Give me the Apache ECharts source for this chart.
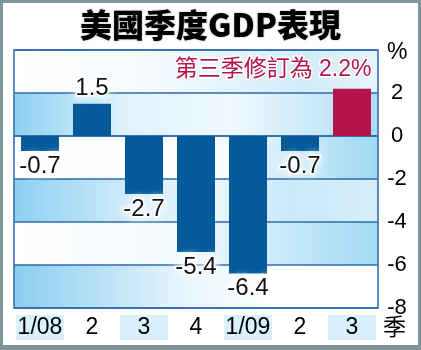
<!DOCTYPE html>
<html>
<head>
<meta charset="utf-8">
<script src="https://cdn.jsdelivr.net/npm/echarts@6/dist/echarts.min.js"></script>
<style>
html,body{margin:0;padding:0;background:#fff;}
#wrap{position:relative;width:421px;height:350px;}
#chart{position:absolute;left:0;top:0;width:421px;height:350px;}
#frame{position:absolute;left:0;top:0;width:421px;height:350px;box-sizing:border-box;border:3px solid #7f9599;border-bottom-width:5px;pointer-events:none;}
</style>
</head>
<body>
<div id="wrap"><div id="chart"></div><div id="frame"></div></div>
<script>
// ---- data ----
const categories = ['1/08', '2', '3', '4', '1/09', '2', '3'];
const gdpValues = [-0.7, 1.5, -2.7, -5.4, -6.4, -0.7, 2.2];
const yTickLabels = ['2', '0', '-2', '-4', '-6', '-8'];
const bandEdges = [4, 2, 0, -2, -4, -6, -8];
const titleText = '美國季度GDP表現';
const noteText = '第三季修訂為 2.2%';
const unitY = '%';
const unitX = '季';

const BLUE = '#045a9b';
const RED = '#b5134b';
const LINE = '#2e6aad';
const FONT = '"Liberation Sans", "Noto Sans CJK TC", sans-serif';

const G = (stops) => new echarts.graphic.LinearGradient(0, 0, 1, 0, stops.map(s => ({offset: s[0], color: s[1]})));
const bandStyles = [
  G([[0,'#ffffff'],[0.35,'#f6fbfe'],[0.8,'#d3ecf9'],[1,'#e6f5fc']]),
  G([[0,'#8dd0f1'],[0.3,'#dff3fc'],[0.6,'#eef8fe'],[0.85,'#c6e8f8'],[1,'#a9dcf4']]),
  G([[0,'#ffffff'],[0.55,'#fbfdff'],[1,'#9fd8f3']]),
  G([[0,'#8ccff1'],[0.35,'#d7effb'],[0.55,'#eaf6fd'],[0.75,'#cbe9f9'],[1,'#d6eefa']]),
  G([[0,'#ffffff'],[0.45,'#f2faff'],[1,'#a3daf5']]),
  G([[0,'#8acdf0'],[0.45,'#e4f4fc'],[0.7,'#ffffff'],[1,'#ffffff']])
];
const bands = [];
for (let i = 0; i < bandEdges.length - 1; i++) {
  bands.push([{yAxis: bandEdges[i], itemStyle: {color: bandStyles[i]}}, {yAxis: bandEdges[i + 1]}]);
}

const last = gdpValues.length - 1;
const chart = echarts.init(document.getElementById('chart'), null, {renderer: 'canvas'});
chart.setOption({
  animation: false,
  backgroundColor: '#ffffff',
  title: {
    text: titleText,
    left: 'center',
    top: 4,
    textStyle: {fontSize: 32, fontWeight: 900, color: '#000', fontFamily: '"Noto Sans CJK TC", sans-serif',
      textShadowColor: 'rgba(0,0,0,0.35)', textShadowBlur: 2}
  },
  grid: {left: 14, right: 43, top: 50, bottom: 42, show: true, borderColor: LINE, borderWidth: 1.5, backgroundColor: 'transparent'},
  xAxis: {
    type: 'category',
    data: categories,
    axisLine: {show: true, lineStyle: {color: LINE, width: 1.5}},
    axisTick: {show: false},
    axisLabel: {
      margin: 7,
      interval: 0,
      formatter: (v, i) => (i % 2 === 0 ? '{a|' + v + '}' : '{b|' + v + '}'),
      rich: {
        a: {backgroundColor: '#d8f1fc', width: 48, height: 25, lineHeight: 25, align: 'center', fontSize: 23, color: '#000', fontFamily: FONT},
        b: {width: 48, height: 25, lineHeight: 25, align: 'center', fontSize: 23, color: '#000', fontFamily: FONT}
      }
    }
  },
  yAxis: {
    type: 'value',
    position: 'right',
    min: -8, max: 4, interval: 2,
    axisLine: {show: false},
    axisTick: {show: false},
    splitLine: {show: true, lineStyle: {color: LINE, width: 1.5}},
    axisLabel: {
      margin: 19,
      align: 'center',
      fontSize: 22,
      color: '#000',
      fontFamily: FONT,
      formatter: (v) => (yTickLabels.indexOf(String(v)) >= 0 ? String(v) : '')
    }
  },
  series: [{
    type: 'bar',
    barWidth: 38,
    data: gdpValues.map((v, i) => ({
      value: v,
      itemStyle: {color: i === last ? RED : BLUE},
      label: {show: i !== last, position: v >= 0 ? 'top' : 'bottom'}
    })),
    label: {
      show: true,
      distance: 3,
      fontSize: 24,
      color: '#111',
      fontFamily: FONT,
      textBorderColor: '#ffffff',
      textBorderWidth: 3,
      textShadowColor: '#ffffff',
      textShadowBlur: 8,
      formatter: (p) => String(p.value)
    },
    markArea: {silent: true, z: -1, data: bands},
    z: 3
  }],
  graphic: [
    {type: 'text', right: 48, top: 57, z: 10,
      style: {text: noteText, fontSize: 23, fill: RED, fontFamily: FONT,
        stroke: '#ffffff', lineWidth: 3, shadowColor: '#fff', shadowBlur: 6}},
    {type: 'text', left: 387, top: 41, style: {text: unitY, fontSize: 23, fill: '#000', fontFamily: FONT}},
    {type: 'text', left: 383, top: 315, style: {text: unitX, fontSize: 23, fill: '#000', fontFamily: '"Noto Sans CJK TC", sans-serif'}}
  ]
});
</script>
</body>
</html>
